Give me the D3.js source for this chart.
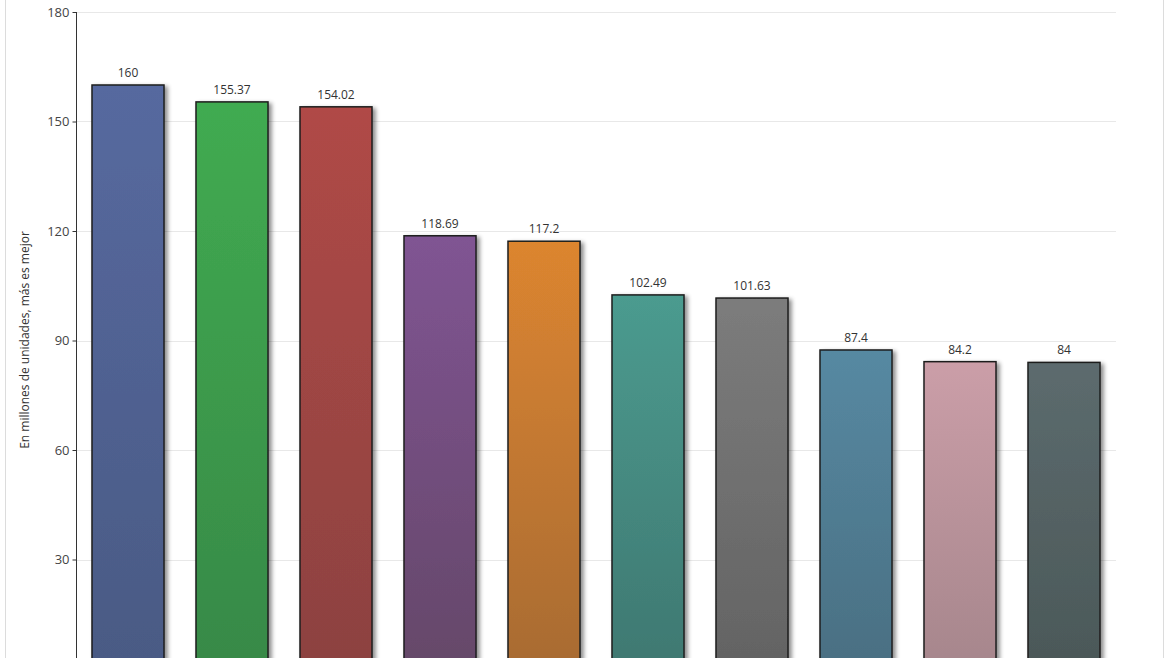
<!DOCTYPE html>
<html>
<head>
<meta charset="utf-8">
<script src="https://cdn.jsdelivr.net/npm/d3@7"></script>
<style>
  html, body { margin: 0; padding: 0; background: #fff; overflow: hidden; }
  svg { display: block; font-family: "Open Sans", "Noto Sans", sans-serif; }
</style>
</head>
<body>
<div id="chart"></div>
<script>
// data (x labels sit below the visible area)
const categories = ["1", "2", "3", "4", "5", "6", "7", "8", "9", "10"];
const values = [160, 155.37, 154.02, 118.69, 117.2, 102.49, 101.63, 87.4, 84.2, 84];
const topColors = ["#56699f", "#41ab51", "#b04946", "#805493", "#dc852f", "#4b9b8f", "#7c7c7c", "#5689a2", "#cb9ea8", "#5c6b6e"];
const bottomColors = ["#4a5a84", "#378947", "#8c4241", "#654869", "#a86b33", "#3f7871", "#636363", "#4a6f82", "#a6868c", "#4b5858"];
const yTicks = [30, 60, 90, 120, 150, 180];

const width = 1170, height = 658;
const margin = {left: 76, right: 54, top: 12};
const yZero = 669; // axis baseline is just below the crop

const svg = d3.select('#chart').append('svg')
    .attr('width', width)
    .attr('height', height);

const defs = svg.append('defs');

const shadow = defs.append('filter')
    .attr('id', 'shadow')
    .attr('x', '-20%').attr('y', '-10%')
    .attr('width', '150%').attr('height', '130%');
shadow.append('feDropShadow')
    .attr('dx', 3).attr('dy', 2)
    .attr('stdDeviation', 2)
    .attr('flood-color', '#000')
    .attr('flood-opacity', 0.45);

categories.forEach((c, i) => {
    const g = defs.append('linearGradient')
        .attr('id', 'grad' + i)
        .attr('x1', 0).attr('y1', 0)
        .attr('x2', 0).attr('y2', 1);
    g.append('stop').attr('offset', '0%').attr('stop-color', topColors[i]);
    g.append('stop').attr('offset', '100%').attr('stop-color', bottomColors[i]);
});

// outer frame
svg.append('line')
    .attr('x1', 5.5).attr('x2', 5.5)
    .attr('y1', 0).attr('y2', height)
    .attr('stroke', '#dcdcdc');
svg.append('line')
    .attr('x1', 1163.5).attr('x2', 1163.5)
    .attr('y1', 0).attr('y2', height)
    .attr('stroke', '#dcdcdc');

const x = d3.scaleBand()
    .domain(categories)
    .range([margin.left, width - margin.right])
    .paddingInner(32 / 104)
    .paddingOuter(16 / 104);

const y = d3.scaleLinear()
    .domain([0, 180])
    .range([yZero, margin.top]);

// grid
svg.append('g')
    .selectAll('line')
    .data(yTicks)
    .join('line')
    .attr('x1', margin.left)
    .attr('x2', width - margin.right)
    .attr('y1', d => Math.round(y(d)) + 0.5)
    .attr('y2', d => Math.round(y(d)) + 0.5)
    .attr('stroke', '#e8e8e8');

// y axis
const yAxis = svg.append('g')
    .attr('transform', `translate(${margin.left + 0.5},0)`)
    .call(d3.axisLeft(y).tickValues(yTicks).tickSize(4).tickPadding(3).tickSizeOuter(0));
yAxis.select('.domain').attr('stroke', '#333').attr('d', `M0,${margin.top}V${height}`);
yAxis.selectAll('.tick line').attr('stroke', '#333');
yAxis.selectAll('.tick text')
    .attr('fill', '#444')
    .attr('font-size', 13)
    .attr('font-family', '"Open Sans", "Noto Sans", sans-serif');

svg.append('text')
    .attr('transform', `translate(29,340) rotate(-90)`)
    .attr('text-anchor', 'middle')
    .attr('font-size', 12)
    .attr('fill', '#333')
    .text('En millones de unidades, más es mejor');

// bars
svg.append('g')
    .selectAll('rect')
    .data(values)
    .join('rect')
    .attr('x', (d, i) => x(categories[i]))
    .attr('y', d => y(d))
    .attr('width', x.bandwidth())
    .attr('height', d => y(0) - y(d))
    .attr('fill', (d, i) => `url(#grad${i})`)
    .attr('stroke', '#1e1e1e')
    .attr('stroke-width', 1.5)
    .attr('filter', 'url(#shadow)');

// value labels
svg.append('g')
    .selectAll('text')
    .data(values)
    .join('text')
    .attr('x', (d, i) => x(categories[i]) + x.bandwidth() / 2)
    .attr('y', d => y(d) - 8)
    .attr('text-anchor', 'middle')
    .attr('font-size', 12)
    .attr('fill', '#333')
    .text(d => d);
</script>
</body>
</html>
